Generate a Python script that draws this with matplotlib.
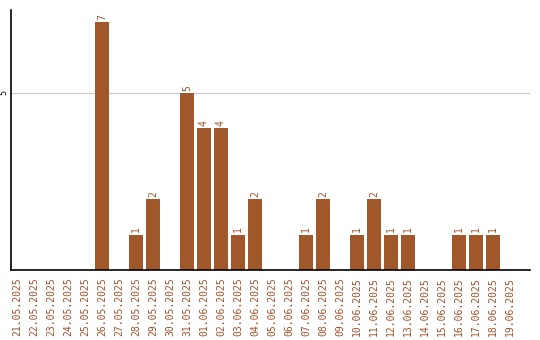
import matplotlib
matplotlib.use("Agg")
import matplotlib.pyplot as plt

dates = ["21.05.2025", "22.05.2025", "23.05.2025", "24.05.2025", "25.05.2025",
         "26.05.2025", "27.05.2025", "28.05.2025", "29.05.2025", "30.05.2025",
         "31.05.2025", "01.06.2025", "02.06.2025", "03.06.2025", "04.06.2025",
         "05.06.2025", "06.06.2025", "07.06.2025", "08.06.2025", "09.06.2025",
         "10.06.2025", "11.06.2025", "12.06.2025", "13.06.2025", "14.06.2025",
         "15.06.2025", "16.06.2025", "17.06.2025", "18.06.2025", "19.06.2025"]
values = [0, 0, 0, 0, 0, 7, 0, 1, 2, 0, 5, 4, 4, 1, 2, 0, 0, 1, 2, 0, 1, 2, 1, 1, 0, 0, 1, 1, 1, 0]

bar_color = "#A0572A"
text_color = "#A0522D"
mono = "DejaVu Sans Mono"

fig = plt.figure(figsize=(5.4, 3.4), dpi=100)
ax = fig.add_axes([11/540, 70/340, 519/540, 260/340])

x = list(range(len(dates)))
ax.bar(x, values, width=0.82, color=bar_color, zorder=2)
for xi, v in zip(x, values):
    if v > 0:
        ax.text(xi, v + 0.06, str(v), rotation=90, ha="center", va="bottom",
                fontsize=7, color=text_color, family=mono)

ax.set_xlim(-0.35, 30.18)
ax.set_ylim(0, 7.33)
ax.set_yticks([5])
ax.set_yticklabels(["5"], rotation=90, va="center", fontsize=6, family=mono)
ax.yaxis.grid(True, color="#C8C8C8", linewidth=0.8, zorder=0)
ax.set_xticks(x)
ax.set_xticklabels(dates, rotation=90, fontsize=7, color=text_color, family=mono)
ax.tick_params(axis="x", length=0, pad=5.5)
ax.tick_params(axis="y", length=0, pad=2)
for s in ["top", "right"]:
    ax.spines[s].set_visible(False)
ax.spines["left"].set_color("black")
ax.spines["bottom"].set_color("black")
ax.spines["left"].set_linewidth(1.2)
ax.spines["bottom"].set_linewidth(1.2)

fig.savefig("out.png", dpi=100, facecolor="white")
